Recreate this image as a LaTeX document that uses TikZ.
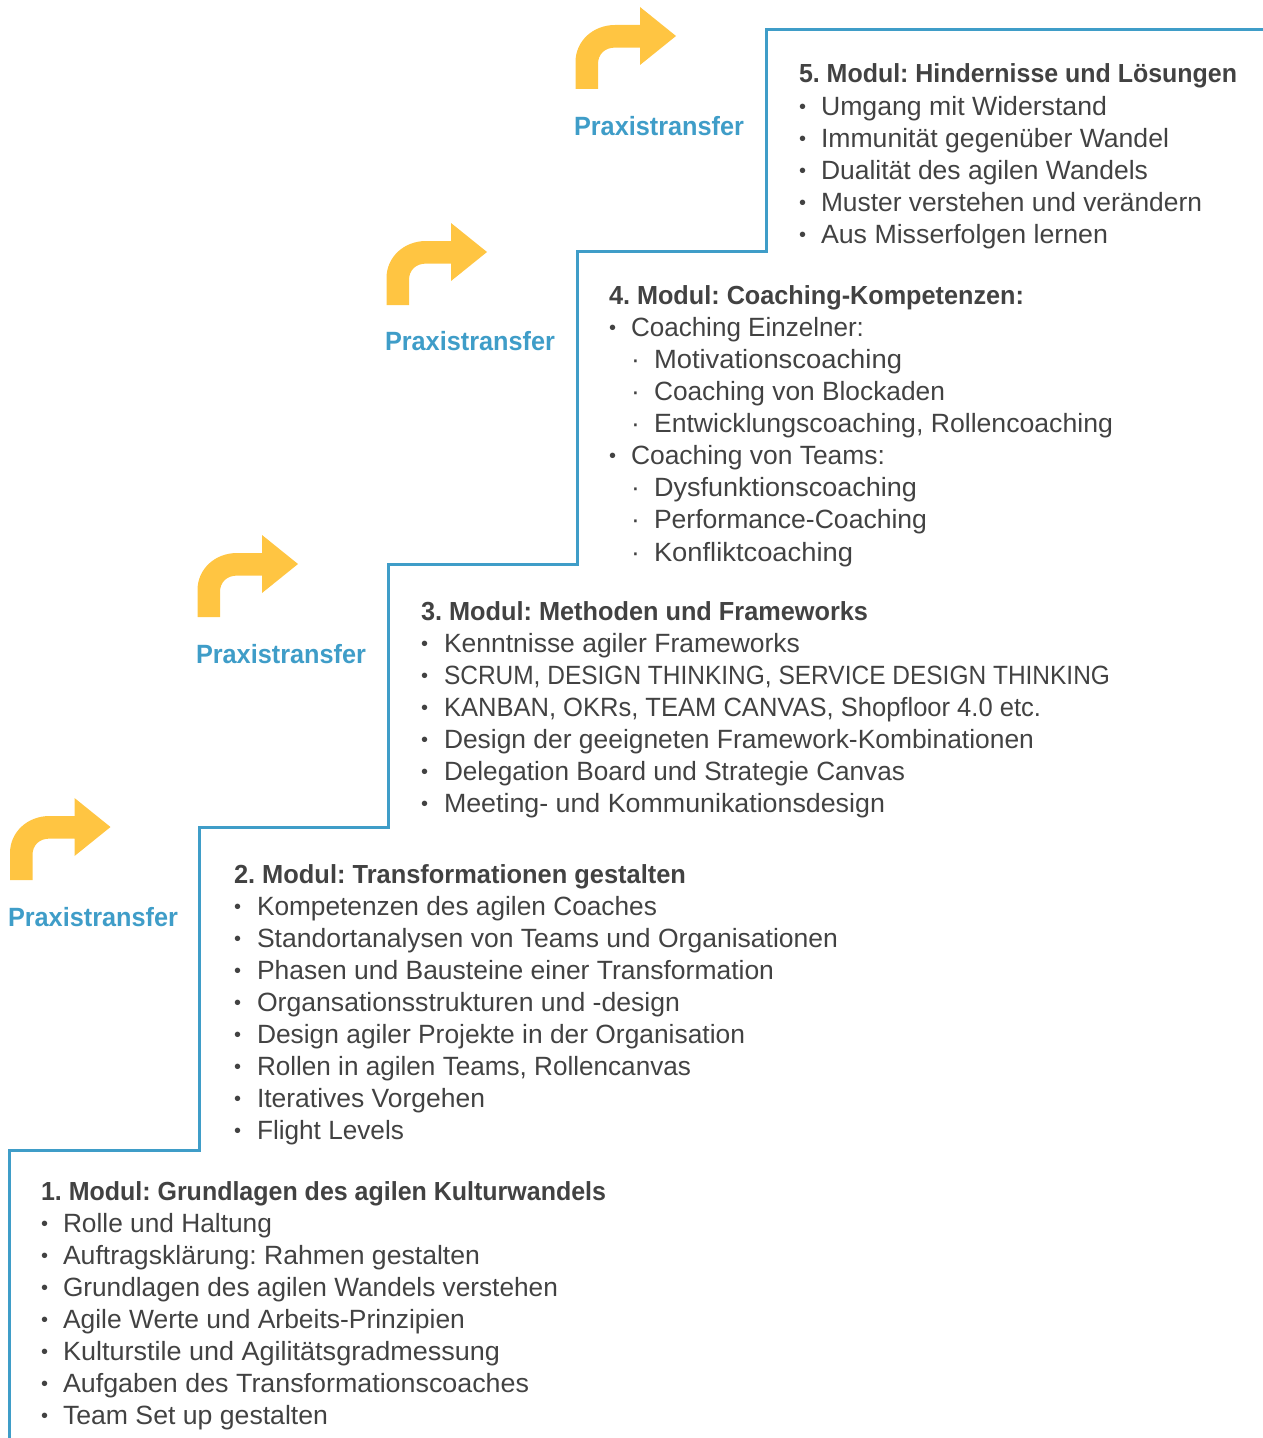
\documentclass[tikz,border=0pt]{standalone}
\usepackage{graphicx}
\usepackage{fontspec}
\setmainfont{Liberation Sans}
\definecolor{stair}{HTML}{3F9DC8}
\definecolor{txt}{HTML}{424242}
\definecolor{arrowy}{HTML}{FFC542}
\tikzset{
  basetext/.style={inner sep=0pt,outer sep=0pt,anchor=base west,text=txt,font=\fontsize{19.8pt}{24pt}\selectfont\frenchspacing},
  headtext/.style={basetext,font=\fontsize{19.6pt}{24pt}\selectfont\bfseries\frenchspacing},
  itemtext/.style={basetext},
  dottext/.style={basetext,font=\fontsize{15pt}{24pt}\selectfont},
  praxtext/.style={basetext,text=stair,font=\fontsize{19.8pt}{24pt}\selectfont\bfseries},
  stairline/.style={draw=stair,line width=2.25pt,line join=miter},
  bendarrowfill/.style={fill=arrowy,draw=none}
}
\newcommand{\fitw}[2]{\resizebox{\dimexpr 0.75pt*#1\relax}{\height}{#2}}
\newcommand{\bendarrow}[2]{%
  \fill[bendarrowfill,shift={(#1,#2)}] (575.5,89) -- (575.5,62) .. controls (575.5,41) and (593,25) .. (615,25) -- (640,25) -- (640,7) -- (676,36) -- (640,65) -- (640,47.6) -- (615,47.6) .. controls (605,47.6) and (598,54) .. (598,64) -- (598,89) -- cycle;}
% name, bullet x, text x, baseline y, right edge, text
\newcommand{\li}[6]{%
  \node[dottext] (#1b) at (#2,#4-1.5) {•};
  \node[itemtext] (#1) at (#3,#4) {\fitw{\numexpr #5-#3\relax}{#6}};}
\newcommand{\subli}[6]{%
  \node[basetext] (#1b) at (#2,#4) {·};
  \node[itemtext] (#1) at (#3,#4) {\fitw{\numexpr #5-#3\relax}{#6}};}
\newcommand{\hd}[5]{%
  \node[headtext] (#1) at (#2,#3) {\fitw{\numexpr #4-#2\relax}{#5}};}
\begin{document}
\begin{tikzpicture}[x=0.75pt,y=-0.75pt]
\useasboundingbox (0,0) rectangle (1263,1438);
\coordinate (s0) at (9.5,1438);
\coordinate (s1) at (9.5,1150.5);
\coordinate (s2) at (199,1150.5);
\coordinate (s3) at (199,827.5);
\coordinate (s4) at (388,827.5);
\coordinate (s5) at (388,564.5);
\coordinate (s6) at (577,564.5);
\coordinate (s7) at (577,251.5);
\coordinate (s8) at (766,251.5);
\coordinate (s9) at (766,29.5);
\coordinate (s10) at (1263,29.5);
\draw[stairline] (s0) -- (s1) -- (s2) -- (s3) -- (s4) -- (s5) -- (s6) -- (s7) -- (s8) -- (s9) -- (s10);
\bendarrow{0}{0}
\bendarrow{-189}{216}
\bendarrow{-378}{528}
\bendarrow{-565.5}{791}
\node[praxtext] (p5) at (574,135) {\fitw{170}{Praxistransfer}};
\node[praxtext] (p4) at (385,350) {\fitw{170}{Praxistransfer}};
\node[praxtext] (p3) at (196,663) {\fitw{170}{Praxistransfer}};
\node[praxtext] (p2) at (8,926) {\fitw{170}{Praxistransfer}};
% Modul 5
\hd{m5}{799}{83}{1237}{5. Modul: Hindernisse und Lösungen}
\li{m5a}{799}{821}{115}{1107}{Umgang mit Widerstand}
\li{m5b}{799}{821}{147}{1169}{Immunität gegenüber Wandel}
\li{m5c}{799}{821}{179}{1148}{Dualität des agilen Wandels}
\li{m5d}{799}{821}{211}{1202}{Muster verstehen und verändern}
\li{m5e}{799}{821}{243}{1108}{Aus Misserfolgen lernen}
% Modul 4
\hd{m4}{609}{304}{1024}{4. Modul: Coaching-Kompetenzen:}
\li{m4a}{609}{631}{336}{864}{Coaching Einzelner:}
\subli{m4b}{631}{654}{368}{902}{Motivationscoaching}
\subli{m4c}{631}{654}{400}{945}{Coaching von Blockaden}
\subli{m4d}{631}{654}{432}{1113}{Entwicklungscoaching, Rollencoaching}
\li{m4e}{609}{631}{464}{885}{Coaching von Teams:}
\subli{m4f}{631}{654}{496}{917}{Dysfunktionscoaching}
\subli{m4g}{631}{654}{528}{927}{Performance-Coaching}
\subli{m4h}{631}{654}{561}{853}{Konfliktcoaching}
% Modul 3
\hd{m3}{421}{620}{868}{3. Modul: Methoden und Frameworks}
\li{m3a}{421}{444}{652}{800}{Kenntnisse agiler Frameworks}
\li{m3b}{421}{444}{684}{1110}{SCRUM, DESIGN THINKING, SERVICE DESIGN THINKING}
\li{m3c}{421}{444}{716}{1041}{KANBAN, OKRs, TEAM CANVAS, Shopfloor 4.0 etc.}
\li{m3d}{421}{444}{748}{1034}{Design der geeigneten Framework-Kombinationen}
\li{m3e}{421}{444}{780}{905}{Delegation Board und Strategie Canvas}
\li{m3f}{421}{444}{812}{885}{Meeting- und Kommunikationsdesign}
% Modul 2
\hd{m2}{234}{883}{686}{2. Modul: Transformationen gestalten}
\li{m2a}{234}{257}{915}{657}{Kompetenzen des agilen Coaches}
\li{m2b}{234}{257}{947}{838}{Standortanalysen von Teams und Organisationen}
\li{m2c}{234}{257}{979}{774}{Phasen und Bausteine einer Transformation}
\li{m2d}{234}{257}{1011}{680}{Organsationsstrukturen und -design}
\li{m2e}{234}{257}{1043}{745}{Design agiler Projekte in der Organisation}
\li{m2f}{234}{257}{1075}{691}{Rollen in agilen Teams, Rollencanvas}
\li{m2g}{234}{257}{1107}{485}{Iteratives Vorgehen}
\li{m2h}{234}{257}{1139}{404}{Flight Levels}
% Modul 1
\hd{m1}{41}{1200}{606}{1. Modul: Grundlagen des agilen Kulturwandels}
\li{m1a}{41}{63}{1232}{272}{Rolle und Haltung}
\li{m1b}{41}{63}{1264}{480}{Auftragsklärung: Rahmen gestalten}
\li{m1c}{41}{63}{1296}{558}{Grundlagen des agilen Wandels verstehen}
\li{m1d}{41}{63}{1328}{465}{Agile Werte und Arbeits-Prinzipien}
\li{m1e}{41}{63}{1360}{500}{Kulturstile und Agilitätsgradmessung}
\li{m1f}{41}{63}{1392}{529}{Aufgaben des Transformationscoaches}
\li{m1g}{41}{63}{1424}{328}{Team Set up gestalten}
\end{tikzpicture}
\end{document}
